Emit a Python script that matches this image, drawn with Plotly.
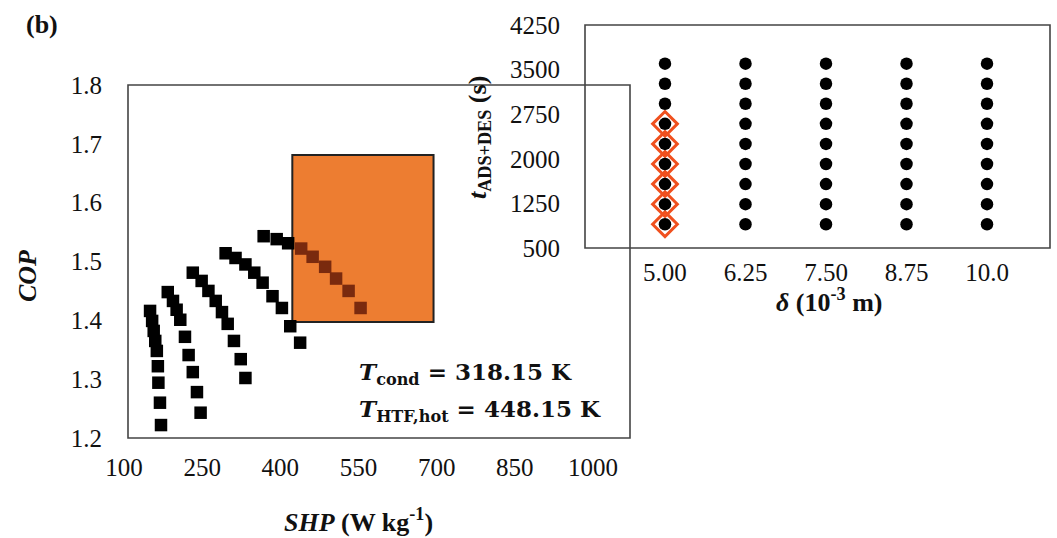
import plotly.graph_objects as go

# ---------------- data ----------------
delta_vals = [5.00, 6.25, 7.50, 8.75, 10.0]
delta_labels = ["5.00", "6.25", "7.50", "8.75", "10.0"]
cycle_times = [900, 1237.5, 1575, 1912.5, 2250, 2587.5, 2925, 3262.5, 3600]

# SHP (W/kg) and COP for each delta, ordered by cycle time (short -> long)
shp_d500 = [554, 531, 507, 486, 462, 440, 415, 393, 368]
cop_d500 = [1.421, 1.450, 1.471, 1.491, 1.508, 1.522, 1.531, 1.538, 1.543]
shp_d625 = [438, 419, 403, 385, 366, 350, 333, 314, 295]
cop_d625 = [1.362, 1.390, 1.421, 1.441, 1.464, 1.481, 1.495, 1.506, 1.514]
shp_d750 = [333, 324, 311, 299, 288, 276, 262, 249, 232]
cop_d750 = [1.302, 1.334, 1.365, 1.394, 1.414, 1.433, 1.450, 1.467, 1.481]
shp_d875 = [247, 240, 232, 224, 217, 208, 201, 194, 184]
cop_d875 = [1.243, 1.278, 1.312, 1.341, 1.372, 1.401, 1.418, 1.433, 1.448]
shp_d1000 = [171, 169, 166, 165, 163, 160, 157, 154, 150]
cop_d1000 = [1.222, 1.260, 1.294, 1.322, 1.348, 1.365, 1.382, 1.399, 1.416]

shp_series = [shp_d500, shp_d625, shp_d750, shp_d875, shp_d1000]
cop_series = [cop_d500, cop_d625, cop_d750, cop_d875, cop_d1000]

# selected designs: delta = 5.00 mm, t <= 2587.5 s
selected_delta = 5.00
selected_times = [900, 1237.5, 1575, 1912.5, 2250, 2587.5]

# highlighted region in SHP-COP space
region_shp = [423, 694]
region_cop = [1.397, 1.681]

x_ticks = [100, 250, 400, 550, 700, 850, 1000]
y_ticks = [1.2, 1.3, 1.4, 1.5, 1.6, 1.7, 1.8]
inset_y_ticks = [500, 1250, 2000, 2750, 3500, 4250]

# ---------------- layout helpers ----------------
W, H = 1057, 538
def px(x):
    return x / W
def py(y):
    return 1 - y / H

FONT = "Liberation Serif"
ORANGE = "#ED7D31"
DARK_RED = "#7A2A0E"
DIAMOND = "#F0501E"

fig = go.Figure()

# main scatter
for d, xs, ys in zip(delta_vals, shp_series, cop_series):
    colors = [DARK_RED if (d == selected_delta and t in selected_times) else "black"
              for t in cycle_times]
    fig.add_trace(go.Scatter(
        x=xs, y=ys, mode="markers", xaxis="x", yaxis="y",
        marker=dict(symbol="square", size=12.5, color=colors, line=dict(width=0)),
        showlegend=False, hoverinfo="skip"))

# inset: diamonds for selected designs
fig.add_trace(go.Scatter(
    x=[selected_delta] * len(selected_times), y=selected_times, mode="markers",
    xaxis="x2", yaxis="y2",
    marker=dict(symbol="diamond-open", size=19, color=DIAMOND, line=dict(width=3, color=DIAMOND)),
    showlegend=False, hoverinfo="skip"))

# inset: design grid dots
for d in delta_vals:
    fig.add_trace(go.Scatter(
        x=[d] * len(cycle_times), y=cycle_times, mode="markers",
        xaxis="x2", yaxis="y2",
        marker=dict(symbol="circle", size=12.5, color="black"),
        showlegend=False, hoverinfo="skip"))

tickfont = dict(family=FONT, size=25, color="#111111")

fig.update_layout(
    width=W, height=H, margin=dict(l=0, r=0, t=0, b=0, pad=0, autoexpand=False),
    autosize=False, showlegend=False,
    paper_bgcolor="white", plot_bgcolor="rgba(0,0,0,0)",
    xaxis=dict(domain=[px(124), px(593)], range=[100, 1000], tickvals=x_ticks,
               ticktext=[str(v) for v in x_ticks], showgrid=False, zeroline=False,
               showline=False, ticks="", tickfont=tickfont, ticklabelstandoff=12,
               anchor="y", automargin=False),
    yaxis=dict(domain=[py(438), py(85)], range=[1.2, 1.8], tickvals=y_ticks,
               ticktext=[f"{v:.1f}" for v in y_ticks], showgrid=False, zeroline=False,
               showline=False, ticks="", tickfont=tickfont, ticklabelstandoff=21,
               anchor="x", automargin=False),
    xaxis2=dict(domain=[px(585), px(1050)], range=[3.758, 10.978], tickvals=delta_vals,
                ticktext=delta_labels, showgrid=False, zeroline=False, showline=False,
                ticks="", tickfont=tickfont, ticklabelstandoff=7, anchor="y2",
                automargin=False),
    yaxis2=dict(domain=[py(248), py(25)], range=[500, 4250], tickvals=inset_y_ticks,
                ticktext=[str(v) for v in inset_y_ticks], showgrid=False, zeroline=False,
                showline=False, ticks="", tickfont=tickfont, ticklabelstandoff=24,
                anchor="x2", automargin=False),
)

# highlighted region (below markers)
fig.add_shape(type="rect", xref="x", yref="y",
              x0=region_shp[0], x1=region_shp[1], y0=region_cop[0], y1=region_cop[1],
              fillcolor=ORANGE, line=dict(color="#222222", width=2), layer="below")

# frames
fig.add_shape(type="rect", xref="paper", yref="paper",
              x0=px(128), x1=px(630), y0=py(438), y1=py(85),
              line=dict(color="#444444", width=1.6), fillcolor="rgba(0,0,0,0)")
fig.add_shape(type="rect", xref="paper", yref="paper",
              x0=px(585), x1=px(1050), y0=py(248), y1=py(25),
              line=dict(color="#444444", width=1.6), fillcolor="rgba(0,0,0,0)")

def ann(text, x, y, size, angle=0, xanchor="center", family=FONT):
    fig.add_annotation(text=text, x=px(x), y=py(y), xref="paper", yref="paper",
                       showarrow=False, textangle=angle, xanchor=xanchor, yanchor="middle",
                       font=dict(family=family, size=size, color="#111111"))

ann("<b>(b)</b>", 42, 24, 26)
ann("<b><i>COP</i></b>", 27, 276, 26, angle=-90)
ann("<b><i>SHP</i> (W kg<sup>-1</sup>)</b>", 358, 520, 26)
ann("<b><i>δ</i> (10<sup>-3</sup> m)</b>", 829, 300, 26)
ann("<b><i>t</i><sub>ADS+DES</sub> (s)</b>", 479, 138, 26, angle=-90)
ann("<b><i>T</i><sub>cond</sub> = 318.15 K</b>", 357, 373, 23, xanchor="left", family="DejaVu Serif")
ann("<b><i>T</i><sub>HTF,hot</sub> = 448.15 K</b>", 357, 410, 23, xanchor="left", family="DejaVu Serif")

fig.write_html("out.html")
